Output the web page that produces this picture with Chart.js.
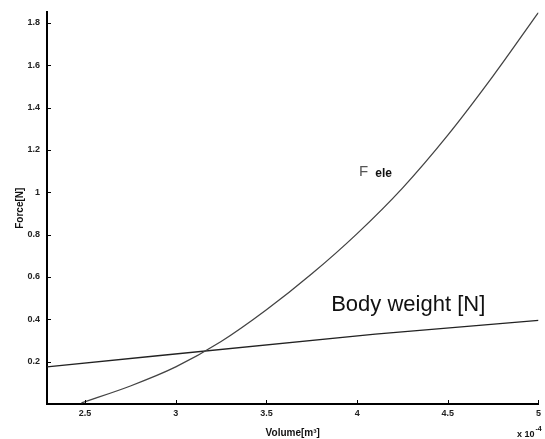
<!DOCTYPE html>
<html>
<head>
<meta charset="utf-8">
<script src="https://cdn.jsdelivr.net/npm/chart.js@4/dist/chart.umd.min.js"></script>
<style>
  html, body { margin: 0; padding: 0; background: #fff; }
  #wrap { width: 545px; height: 439px; }
</style>
</head>
<body>
<div id="wrap"><canvas id="chart" width="545" height="439"></canvas></div>
<script>
// values (volume in 1e-4 m^3, force in N)
const volume = [2.48, 2.75, 3.0, 3.25, 3.5, 3.75, 4.0, 4.25, 4.5, 4.75, 5.0];
const forceEle = [0.005, 0.085, 0.175, 0.295, 0.445, 0.615, 0.805, 1.02, 1.27, 1.55, 1.85];
const bwVolume = [2.29, 2.9, 4.1, 5.0];
const bodyWeight = [0.175, 0.228, 0.33, 0.395];
const xTicks = [2.5, 3, 3.5, 4, 4.5, 5];
const yTicks = [0.2, 0.4, 0.6, 0.8, 1, 1.2, 1.4, 1.6, 1.8];

const FONT = '"Liberation Sans", Arial, sans-serif';

function points(xs, ys) {
  return xs.map((x, i) => ({ x, y: ys[i] }));
}

const annotate = {
  id: "annotate",
  afterDraw(chart) {
    const { ctx, chartArea } = chart;
    const x = chart.scales.x;
    const y = chart.scales.y;
    ctx.save();

    // inward tick marks, matlab style
    ctx.strokeStyle = "#000";
    ctx.lineWidth = 1;
    ctx.beginPath();
    xTicks.forEach((v) => {
      const px = Math.round(x.getPixelForValue(v)) + 0.5;
      ctx.moveTo(px, chartArea.bottom);
      ctx.lineTo(px, chartArea.bottom - 4);
    });
    yTicks.forEach((v) => {
      const py = Math.round(y.getPixelForValue(v)) + 0.5;
      ctx.moveTo(chartArea.left, py);
      ctx.lineTo(chartArea.left + 4, py);
    });
    ctx.stroke();

    // curve labels
    ctx.fillStyle = "#111";
    ctx.textBaseline = "alphabetic";
    ctx.font = `22px ${FONT}`;
    ctx.fillText("Body weight [N]", x.getPixelForValue(3.857), y.getPixelForValue(0.44));

    const fx = x.getPixelForValue(4.01);
    const fy = y.getPixelForValue(1.075);
    ctx.fillStyle = "#555";
    ctx.font = `15px ${FONT}`;
    ctx.fillText("F", fx, fy);
    const fw = ctx.measureText("F ").width;
    ctx.fillStyle = "#111";
    ctx.font = `bold 12px ${FONT}`;
    ctx.fillText("ele", fx + fw + 3, fy + 1);

    // exponent note at the end of the x axis
    ctx.font = `bold 9px ${FONT}`;
    ctx.fillText("x 10", 517, 437);
    const w = ctx.measureText("x 10").width;
    ctx.font = `bold 7px ${FONT}`;
    ctx.fillText("-4", 517 + w + 1, 431);
    ctx.restore();
  },
};

new Chart(document.getElementById("chart"), {
  type: "line",
  data: {
    datasets: [
      {
        label: "F_ele",
        data: points(volume, forceEle),
        borderColor: "#444",
        borderWidth: 1.3,
        pointRadius: 0,
        cubicInterpolationMode: "monotone",
        fill: false,
      },
      {
        label: "Body weight [N]",
        data: points(bwVolume, bodyWeight),
        borderColor: "#222",
        borderWidth: 1.3,
        pointRadius: 0,
        fill: false,
      },
    ],
  },
  options: {
    responsive: false,
    animation: false,
    devicePixelRatio: 1,
    layout: { padding: { left: 0, right: 3, top: 10, bottom: 0 } },
    plugins: { legend: { display: false }, tooltip: { enabled: false } },
    scales: {
      x: {
        type: "linear",
        min: 2.29,
        max: 5,
        afterBuildTicks: (s) => { s.ticks = xTicks.map((v) => ({ value: v })); },
        afterFit: (s) => { s.height = 35; },
        grid: { drawOnChartArea: false, drawTicks: false },
        border: { display: true, color: "#000", width: 2 },
        ticks: {
          padding: 4,
          color: "#222",
          font: { family: FONT, size: 9, weight: "bold" },
          callback: (v) => String(v),
          maxRotation: 0,
        },
        title: {
          display: true,
          text: "Volume[m³]",
          color: "#111",
          font: { family: FONT, size: 10, weight: "bold" },
          padding: { top: 8, bottom: 0 },
        },
      },
      y: {
        min: 0,
        max: 1.85,
        afterBuildTicks: (s) => { s.ticks = yTicks.map((v) => ({ value: v })); },
        afterFit: (s) => { s.width = 47; },
        grid: { drawOnChartArea: false, drawTicks: false },
        border: { display: true, color: "#000", width: 2 },
        ticks: {
          padding: 7,
          color: "#222",
          font: { family: FONT, size: 9, weight: "bold" },
          callback: (v) => String(v),
        },
        title: {
          display: true,
          text: "Force[N]",
          color: "#111",
          font: { family: FONT, size: 10, weight: "bold" },
          padding: { top: 14, bottom: 0 },
        },
      },
    },
  },
  plugins: [annotate],
});
</script>
</body>
</html>
